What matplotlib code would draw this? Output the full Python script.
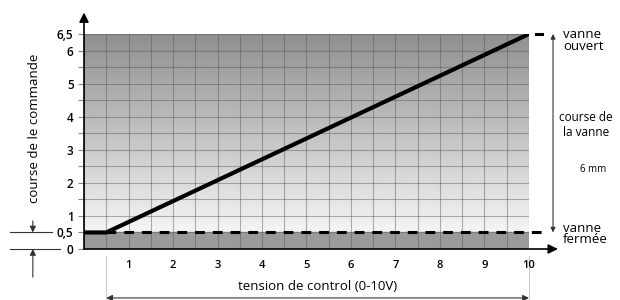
import numpy as np
import matplotlib.pyplot as plt

plt.rcParams['font.family'] = ['Open Sans', 'DejaVu Sans']

# command curve: flat at closed position, then linear up to fully open
x_cmd = [0, 0.5, 10]
y_cmd = [0.5, 0.5, 6.5]

CLOSED = 0.5
OPEN = 6.5
X_MAX = 10

y_ticks = [0, 0.5, 1, 2, 3, 4, 5, 6, 6.5]
y_labels = ['0', '0,5', '1', '2', '3', '4', '5', '6', '6,5']
x_ticks = [1, 2, 3, 4, 5, 6, 7, 8, 9, 10]
x_labels = ['1', '2', '3', '4', '5', '6', '7', '8', '9', '10']

fig = plt.figure(figsize=(6.2, 3.0), dpi=100)
ax = fig.add_axes([0.1355, 0.17, 0.7177, 0.7167])
ax.set_xlim(0, X_MAX)
ax.set_ylim(0, OPEN)

# background: gradient above closed level, dark band below
grad = np.linspace(0.96, 0.56, 256)[:, None]
ax.imshow(grad, extent=[0, X_MAX, CLOSED, OPEN], origin='lower', aspect='auto',
          cmap='gray', vmin=0, vmax=1, zorder=0)
ax.axhspan(0, CLOSED, color='#9a9a9a', zorder=0)

ax.set_xticks(x_ticks, x_labels)
ax.set_xticks(np.arange(0, X_MAX + 0.01, 0.5), minor=True)
ax.set_yticks(y_ticks, y_labels)
ax.set_yticks(np.arange(0, OPEN + 0.01, 0.5), minor=True)
ax.grid(which='both', color='#555555', lw=0.8, alpha=0.45, zorder=1)
ax.set_axisbelow(False)

ax.tick_params(axis='x', which='both', length=0, pad=8, labelsize=8)
ax.tick_params(axis='y', which='both', direction='out', length=4.5, width=0.8,
               color='#888888', pad=3, labelsize=8.5)
for lab in ax.get_xticklabels() + ax.get_yticklabels():
    lab.set_fontweight('semibold')

for s in ax.spines.values():
    s.set_visible(False)

# curves
ax.plot([x_cmd[1], 10.35], [CLOSED, CLOSED], color='black', lw=2.2,
        ls=(0, (3.2, 2.6)), clip_on=False, zorder=3)
ax.plot([X_MAX + 0.15, 10.3], [OPEN, OPEN], color='black', lw=2.2, clip_on=False, zorder=3)
ax.plot(x_cmd, y_cmd, color='black', lw=3, solid_capstyle='butt', zorder=4)

# axes arrows
arr = dict(arrowstyle='-|>', color='black', lw=1.2, mutation_scale=14, shrinkA=0, shrinkB=0)
ax.annotate('', xy=(0, 7.15), xytext=(0, 0), arrowprops=arr, annotation_clip=False)
ax.annotate('', xy=(10.65, 0), xytext=(0, 0), arrowprops=arr, annotation_clip=False)

# left dimension: closed offset
ax.plot([-1.66, -0.72], [CLOSED, CLOSED], color='#333333', lw=0.8, clip_on=False)
ax.plot([-1.66, -0.54], [0, 0], color='#333333', lw=0.8, clip_on=False)
small = dict(arrowstyle='-|>', color='#333333', lw=0.8, mutation_scale=9, shrinkA=0, shrinkB=0)
ax.annotate('', xy=(-1.15, CLOSED), xytext=(-1.15, 0.85), arrowprops=small, annotation_clip=False)
ax.annotate('', xy=(-1.15, 0), xytext=(-1.15, -0.85), arrowprops=small, annotation_clip=False)

# right dimension: valve stroke
ax.annotate('', xy=(10.54, OPEN), xytext=(10.54, CLOSED),
            arrowprops=dict(arrowstyle='<|-|>', color='#333333', lw=0.8,
                            mutation_scale=7, shrinkA=0, shrinkB=0),
            annotation_clip=False)
ax.text(10.76, 6.3, 'vanne\nouvert', fontsize=9.5, va='center', ha='left',
        linespacing=0.85, clip_on=False)
ax.text(10.76, 0.45, 'vanne\nfermée', fontsize=9.5, va='center', ha='left',
        linespacing=0.85, clip_on=False)
ax.text(11.28, 3.75, 'course de\nla vanne', fontsize=8.5, va='center', ha='center',
        linespacing=1.15, clip_on=False)
ax.text(11.45, 2.4, '6 mm', fontsize=7, va='center', ha='center', clip_on=False)

# bottom dimension: control range
for xv in [x_cmd[1], X_MAX]:
    ax.plot([xv, xv], [-0.2, -1.6], color='#cccccc', lw=0.8, clip_on=False)
ax.annotate('', xy=(X_MAX, -1.48), xytext=(x_cmd[1], -1.48),
            arrowprops=dict(arrowstyle='<|-|>', color='#333333', lw=0.8,
                            mutation_scale=9, shrinkA=0, shrinkB=0),
            annotation_clip=False)

fig.text(318 / 620, 1 - 286 / 300, 'tension de control (0-10V)', fontsize=9.5,
         ha='center', va='center')
fig.text(35 / 620, 1 - 128 / 300, 'course de le commande', fontsize=9.5,
         ha='center', va='center', rotation=90)

fig.savefig('out.png', dpi=100)
